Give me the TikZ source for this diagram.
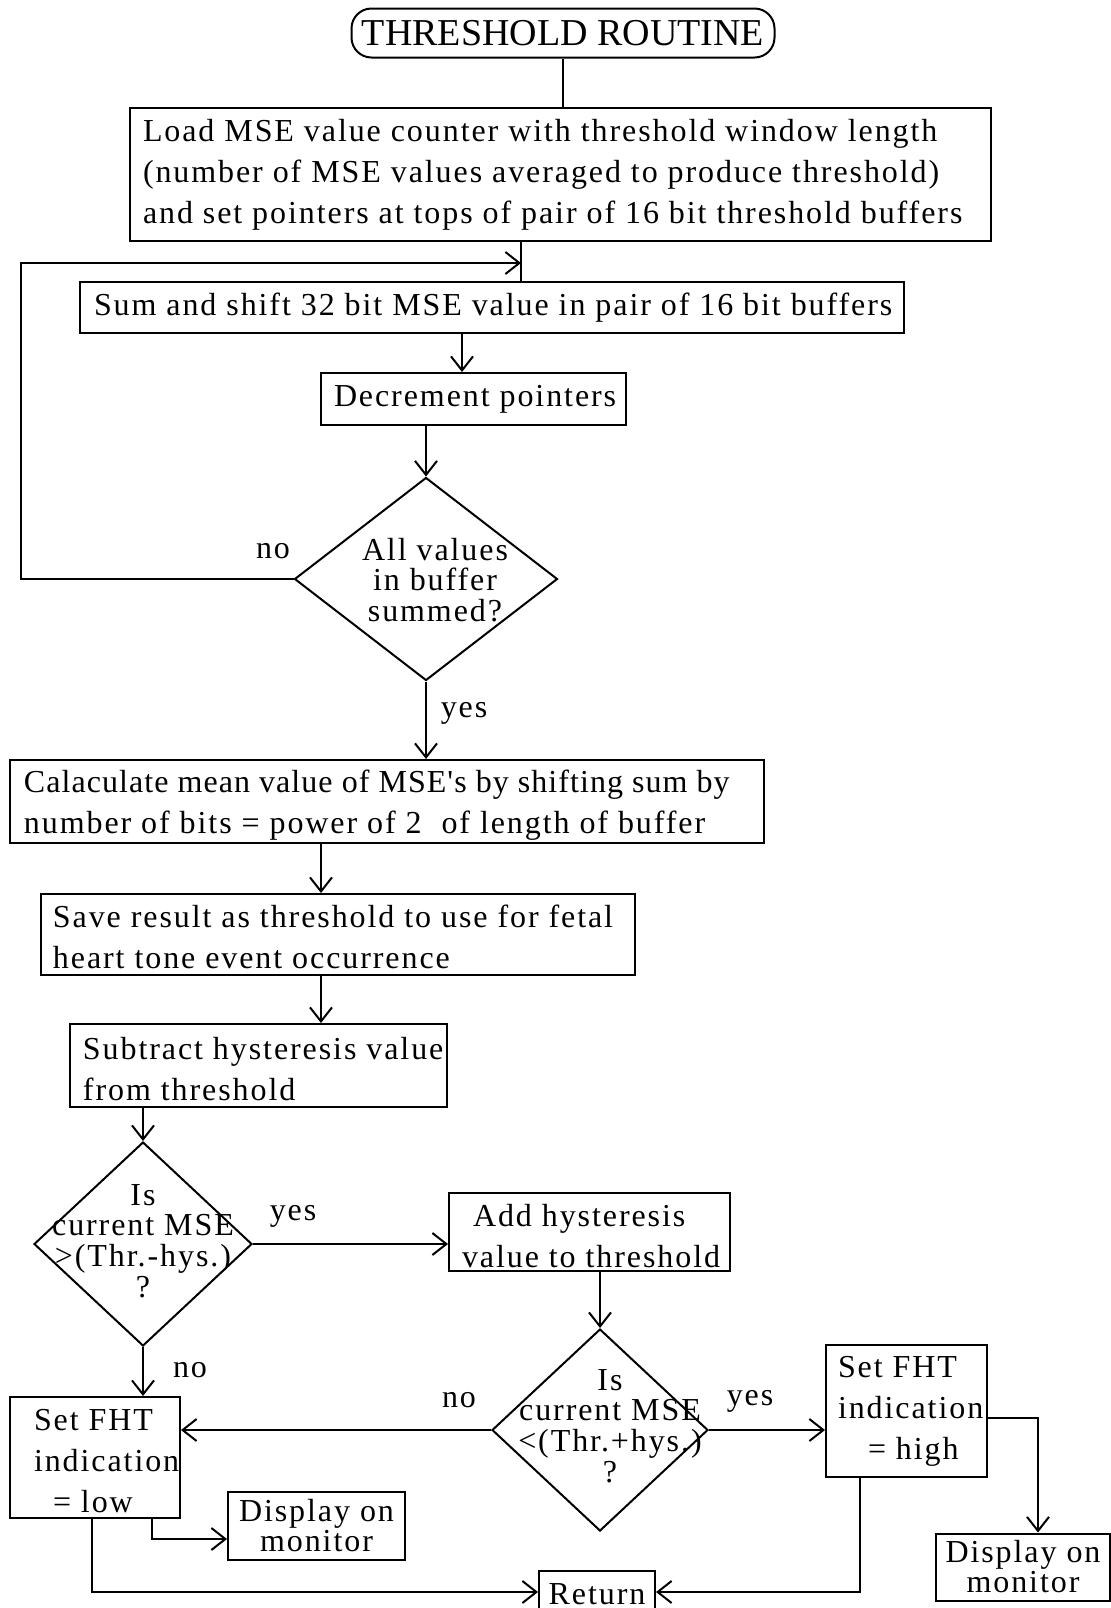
\documentclass[tikz,border=0pt]{standalone}
\usepackage{fontspec}
\setmainfont{Liberation Serif}[LetterSpace=6]
\newfontfamily\titlefont{Liberation Serif}
\newfontfamily\tightfont{Liberation Serif}[LetterSpace=3.3]
\usetikzlibrary{shapes.geometric,arrows.meta}
\begin{document}
\begin{tikzpicture}[x=0.5pt,y=-0.5pt, line width=1pt,
  bodyfont/.style={font=\fontsize{16}{20.5}\selectfont},
  box/.style={draw, rectangle, inner sep=0pt},
  txt/.style={inner sep=0pt, align=left, anchor=west, bodyfont},
  mbox/.style={draw, rectangle, inner sep=0pt, align=center, font=\fontsize{16}{15}\selectfont},
  dia/.style={draw, diamond, inner sep=0pt},
  dtext/.style={align=center, inner sep=0pt, font=\fontsize{16}{15.3}\selectfont},
  lbl/.style={inner sep=0pt, font=\fontsize{16}{18}\selectfont},
  arr/.style={-{Straight Barb[length=7pt,width=11pt,line width=1pt]}}]
\useasboundingbox (0,0) rectangle (1111,1608);
\clip (0,0) rectangle (1111,1608);

% title
\node[draw, rounded corners=10pt, minimum width=211.5pt, minimum height=24.5pt, inner sep=0pt,
  font=\titlefont\fontsize{19}{22}\selectfont] (title) at (563,33) {THRESHOLD ROUTINE};

% boxes
\node[box, minimum width=430.5pt, minimum height=66.5pt] (b1) at (560.5,174.5) {};
\node[txt] (t1) at (142,174.5)
  {Load MSE value counter with threshold window length\\(number of MSE values averaged to produce threshold)\\and set pointers at tops of pair of 16 bit threshold buffers};
\node[box, minimum width=412pt, minimum height=25.5pt] (b2) at (492,307.5) {};
\node[txt] (t2) at (93,307.5) {Sum and shift 32 bit MSE value in pair of 16 bit buffers};
\node[box, minimum width=152.5pt, minimum height=26pt] (b3) at (473.5,399) {};
\node[txt] (t3) at (333,399) {Decrement pointers};
\node[dia, minimum width=131.5pt, minimum height=101.5pt] (d1) at (426,579) {};
\node[dtext] (td1) at (435,580) {All values\\in buffer\\summed?};
\node[box, minimum width=377pt, minimum height=41.5pt] (b4) at (387,801.5) {};
\node[txt] (t4) at (23,805)
  {{\tightfont Calaculate mean value of MSE\char"0027 s by shifting sum by}\\number of bits = power of 2~ of length of buffer};
\node[box, minimum width=297pt, minimum height=40.5pt] (b5) at (338,934.5) {};
\node[txt] (t5) at (52,937) {Save result as threshold to use for fetal\\heart tone event occurrence};
\node[box, minimum width=188.5pt, minimum height=41.5pt] (b6) at (258.5,1065.5) {};
\node[txt] (t6) at (82,1069) {Subtract hysteresis value\\from threshold};
\node[dia, minimum width=109pt, minimum height=102pt] (d2) at (143,1244) {};
\node[dtext] (td2) at (143,1241) {Is\\current MSE\\>(Thr.-hys.)\\?};
\node[box, minimum width=140.5pt, minimum height=39pt] (b7) at (589.5,1232) {};
\node[txt] (t7) at (461,1236) {\hspace*{5.5pt}Add hysteresis\\value to threshold};
\node[dia, minimum width=108pt, minimum height=101pt] (d3) at (600,1430) {};
\node[dtext] (td3) at (610,1426) {Is\\current MSE\\<(Thr.+hys.)\\?};
\node[box, minimum width=85pt, minimum height=60.5pt] (b8) at (95,1457.5) {};
\node[txt] (t8) at (33,1461) {Set FHT\\indication\\\hspace*{9.5pt}= low};
\node[box, minimum width=80.5pt, minimum height=66pt] (b9) at (906.5,1411) {};
\node[txt] (t9) at (837,1411) {Set FHT\\indication\\\hspace*{15pt}= high};
\node[mbox, minimum width=88.5pt, minimum height=34pt] (b10) at (316.5,1526) {Display on\\monitor};
\node[mbox, minimum width=87pt, minimum height=33.5pt] (b11) at (1023,1567) {Display on\\monitor};
\node[mbox, minimum width=58pt, minimum height=23pt] (ret) at (597,1594) {Return};

% labels
\node[lbl] (l1) at (273,551) {no};
\node[lbl] (l2) at (464,713) {yes};
\node[lbl] (l3) at (293,1216) {yes};
\node[lbl] (l4) at (190,1370) {no};
\node[lbl] (l5) at (459,1400) {no};
\node[lbl] (l6) at (750,1401) {yes};

% helper coordinates
\coordinate (j1) at (521,263);
\coordinate (lp) at (21,263);
\coordinate (x23) at (462,0);
\coordinate (x45) at (321,0);
\coordinate (c810) at (152,1539);
\coordinate (c8r) at (92,1592);
\coordinate (c9r) at (860,1592);
\coordinate (c911) at (1038,1418);

% connectors
\draw (title.south) -- (title.south |- b1.north);
\draw (b1.south -| j1) -- (j1 |- b2.north);
\draw[arr] (d1.west) -| (lp) -- (j1);
\draw[arr] (b2.south -| x23) -- (b3.north -| x23);
\draw[arr] (b3.south -| d1.north) -- (d1.north);
\draw[arr] (d1.south) -- (d1.south |- b4.north);
\draw[arr] (b4.south -| x45) -- (b5.north -| x45);
\draw[arr] (b5.south -| x45) -- (b6.north -| x45);
\draw[arr] (b6.south -| d2.north) -- (d2.north);
\draw[arr] (d2.east) -- (d2.east -| b7.west);
\draw[arr] (b7.south -| d3.north) -- (d3.north);
\draw[arr] (d3.west) -- (d3.west -| b8.east);
\draw[arr] (d3.east) -- (d3.east -| b9.west);
\draw[arr] (d2.south) -- (d2.south |- b8.north);
\draw[arr] (b8.south -| c810) -- (c810) -- (c810 -| b10.west);
\draw[arr] (b8.south -| c8r) -- (c8r) -- (c8r -| ret.west);
\draw[arr] (b9.south -| c9r) -- (c9r) -- (c9r -| ret.east);
\draw[arr] (b9.east |- c911) -- (c911) -- (c911 |- b11.north);
\end{tikzpicture}
\end{document}
